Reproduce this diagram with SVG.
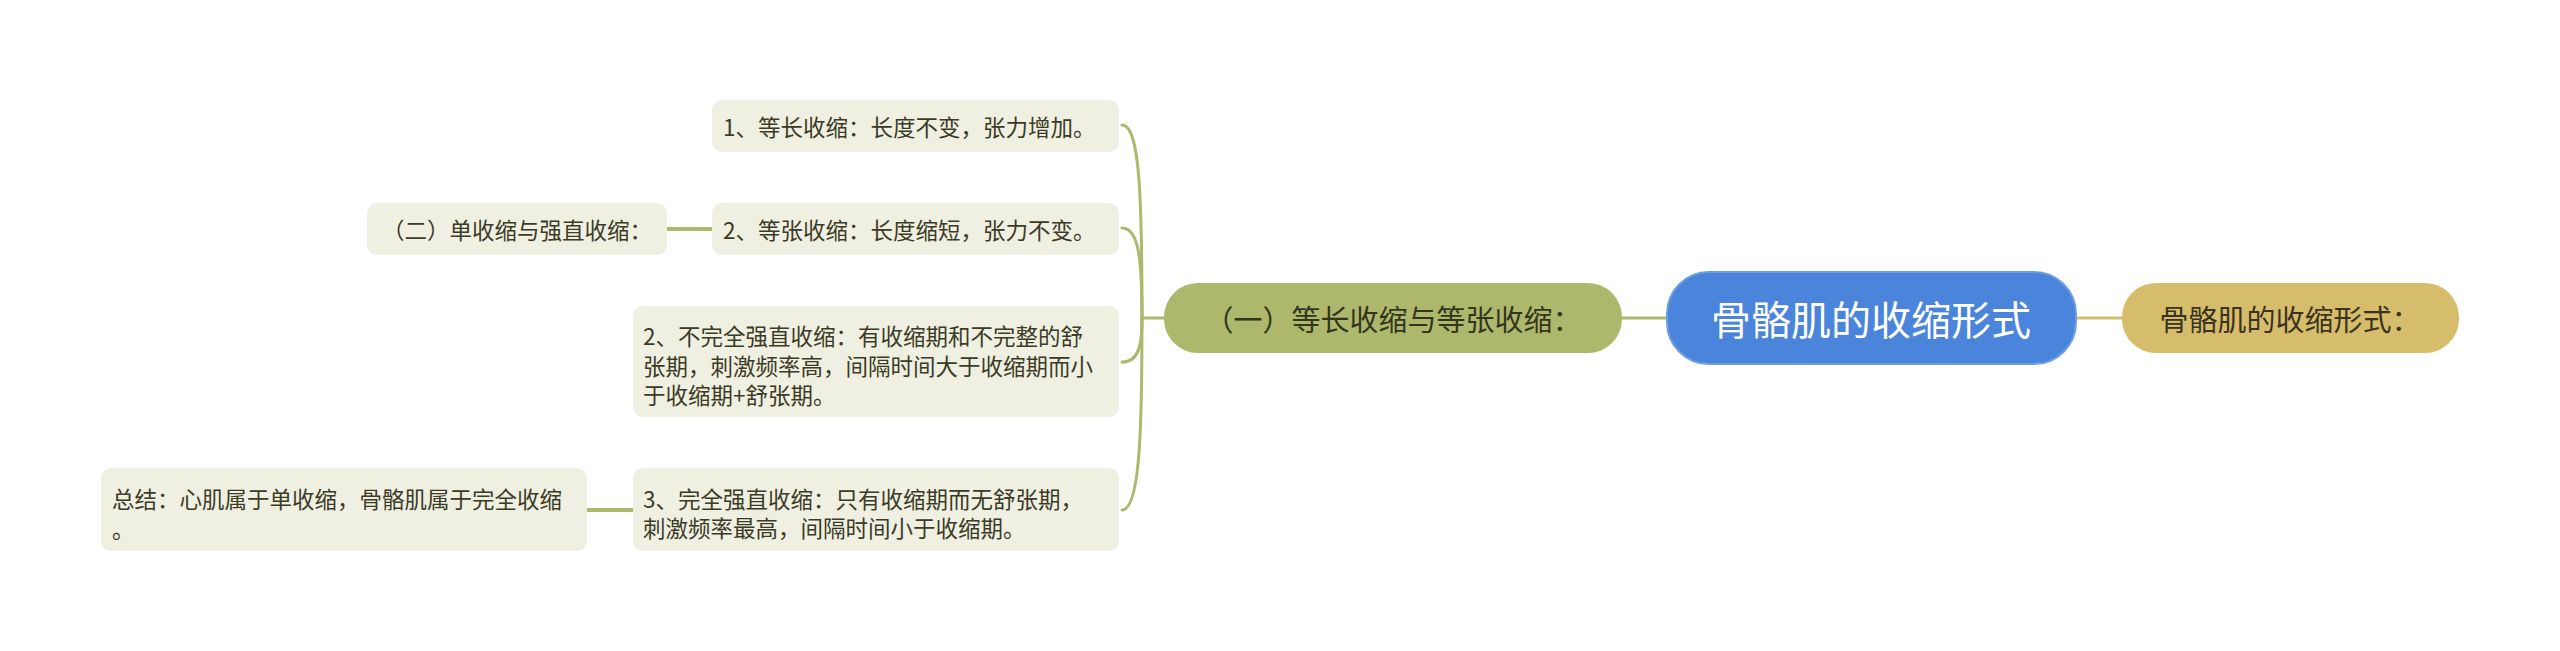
<svg xmlns="http://www.w3.org/2000/svg" width="2560" height="651" viewBox="0 0 2560 651">
<style>
  text { font-family: "Noto Sans CJK SC", "Noto Sans", sans-serif; }
  .leaf rect { fill: #efefe2; }
  .leaf text { font-size: 22.5px; fill: #3b3b26; dominant-baseline: central; }
  .lvl1 text { font-size: 29px; dominant-baseline: central; text-anchor: middle; }
  .conn { fill: none; stroke: #adb86c; stroke-width: 3; stroke-linecap: round; }
  .thick { stroke-width: 4; }
</style>
<rect width="2560" height="651" fill="#ffffff"/>
<g id="connectors">
  <path class="conn" d="M1622,318 L1667,318"/>
  <path class="conn" style="stroke:#d5bd6b" d="M2076,318 L2122,318"/>
  <path class="conn" d="M1164,318 L1142,318"/>
  <path class="conn" d="M1142,318 C1142,200 1140,125 1122,125"/>
  <path class="conn" d="M1142,318 C1142,260 1139,228 1122,228"/>
  <path class="conn" d="M1142,318 C1142,345 1139,362 1122,362"/>
  <path class="conn" d="M1142,318 C1142,430 1140,510 1122,510"/>
  <path class="conn thick" d="M667,229 L712,229"/>
  <path class="conn thick" d="M587,510 L633,510"/>
</g>
<g id="root">
  <rect x="1667" y="272" width="409" height="92" rx="42" fill="#4a85db" stroke="#6d9de3" stroke-width="2"/>
  <text x="1871" y="318" font-size="40" fill="#ffffff" text-anchor="middle" dominant-baseline="central">骨骼肌的收缩形式</text>
</g>
<g id="right" class="lvl1">
  <rect x="2122" y="283" width="337" height="70" rx="34" fill="#d5bd6b"/>
  <text x="2290" y="318" fill="#3b3320">骨骼肌的收缩形式：</text>
</g>
<g id="left" class="lvl1">
  <rect x="1164" y="283" width="458" height="70" rx="34" fill="#adb86c"/>
  <text x="1393" y="318" fill="#33361c">（一）等长收缩与等张收缩：</text>
</g>
<g id="c1" class="leaf">
  <rect x="712" y="100" width="407" height="52" rx="10"/>
  <text x="723" y="126">1、等长收缩：长度不变，张力增加。</text>
</g>
<g id="c2" class="leaf">
  <rect x="712" y="203" width="407" height="52" rx="10"/>
  <text x="723" y="229">2、等张收缩：长度缩短，张力不变。</text>
</g>
<g id="c2a" class="leaf">
  <rect x="367" y="203" width="300" height="52" rx="10"/>
  <text x="517" y="229" text-anchor="middle">（二）单收缩与强直收缩：</text>
</g>
<g id="c3" class="leaf">
  <rect x="633" y="306" width="486" height="111" rx="10"/>
  <text x="643" y="335">2、不完全强直收缩：有收缩期和不完整的舒</text>
  <text x="643" y="365">张期，刺激频率高，间隔时间大于收缩期而小</text>
  <text x="643" y="394">于收缩期+舒张期。</text>
</g>
<g id="c4" class="leaf">
  <rect x="633" y="468" width="486" height="83" rx="10"/>
  <text x="643" y="498">3、完全强直收缩：只有收缩期而无舒张期，</text>
  <text x="643" y="527">刺激频率最高，间隔时间小于收缩期。</text>
</g>
<g id="c4a" class="leaf">
  <rect x="101" y="468" width="486" height="83" rx="10"/>
  <text x="112" y="498">总结：心肌属于单收缩，骨骼肌属于完全收缩</text>
  <text x="112" y="528">。</text>
</g>
</svg>
